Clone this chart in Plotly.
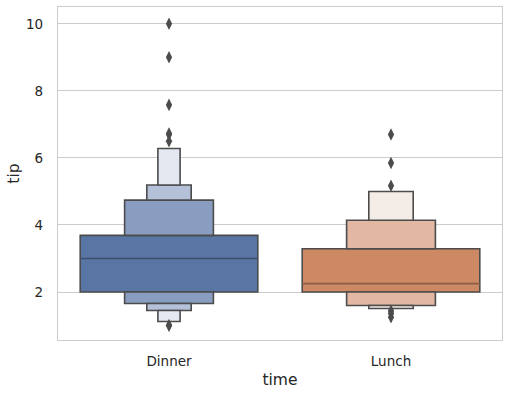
import plotly.graph_objects as go

categories = ["Dinner", "Lunch"]
# letter-value boundaries (lower, upper) for each level, level 1 = box
dinner_levels = [(2.00, 3.69), (1.66, 4.74), (1.45, 5.19), (1.12, 6.28)]
lunch_levels = [(2.00, 3.29), (1.60, 4.14), (1.51, 5.00)]
medians = [3.00, 2.25]
dinner_outliers = [10.0, 9.0, 7.58, 6.73, 6.70, 6.50, 1.01, 1.00]
lunch_outliers = [6.70, 5.85, 5.17, 1.44, 1.36, 1.25]
level_widths = [0.8, 0.4, 0.2, 0.1]

dinner_colors = ["#5975a4", "#889dc0", "#b4c1d8", "#e3e8f1"]
lunch_colors = ["#cc8963", "#e2b8a3", "#f4ece7"]
median_colors = ["#3e4f6d", "#8b5e46"]
edge = "#4c4c4c"

fig = go.Figure()

def add_boxen(idx, levels, colors):
    prev_lo, prev_hi = None, None
    for k, (lo, hi) in enumerate(levels):
        w = level_widths[k]
        if k == 0:
            spans = [(lo, hi)]
        else:
            spans = [(prev_hi, hi), (lo, prev_lo)]
        for a, b in spans:
            fig.add_trace(go.Bar(
                x=[idx], base=[a], y=[b - a], width=[w],
                marker=dict(color=colors[k], line=dict(color=edge, width=1.6)),
                showlegend=False, hoverinfo="skip"))
        prev_lo, prev_hi = lo, hi

add_boxen(0, dinner_levels, dinner_colors)
add_boxen(1, lunch_levels, lunch_colors)

for i, m in enumerate(medians):
    fig.add_trace(go.Scatter(
        x=[i - level_widths[0] / 2, i + level_widths[0] / 2], y=[m, m],
        mode="lines", line=dict(color=median_colors[i], width=1.6),
        showlegend=False, hoverinfo="skip"))

for i, outs in enumerate([dinner_outliers, lunch_outliers]):
    fig.add_trace(go.Scatter(
        x=[i] * len(outs), y=outs, mode="markers",
        marker=dict(symbol="diamond-tall", size=9, color=edge, line=dict(width=0)),
        showlegend=False))

fig.update_layout(
    width=513, height=396,
    margin=dict(l=58, r=11, t=7, b=56),
    paper_bgcolor="white", plot_bgcolor="white",
    barmode="overlay",
    font=dict(family="DejaVu Sans", size=13.5, color="#262626"),
)
fig.update_xaxes(
    range=[-0.5, 1.5], tickvals=list(range(len(categories))), ticktext=categories,
    showgrid=False, zeroline=False, showline=True, linecolor="#cccccc", linewidth=1.3,
    mirror=True, ticks="", automargin=False, ticklabelstandoff=9,
    title=dict(text="time", font=dict(size=15.5), standoff=5),
    tickfont=dict(size=13.5),
)
fig.update_yaxes(
    range=[0.57, 10.5], tickvals=[2, 4, 6, 8, 10],
    showgrid=True, gridcolor="#cccccc", gridwidth=1, zeroline=False,
    showline=True, linecolor="#cccccc", linewidth=1.3, mirror=True, ticks="",
    automargin=False, ticklabelstandoff=11,
    title=dict(text="tip", font=dict(size=15.5), standoff=2),
    tickfont=dict(size=13.5),
)

fig.write_html(
    "out.html",
    config={"displayModeBar": False},
    post_script="document.body.style.margin='0';document.body.style.overflow='hidden';",
)
